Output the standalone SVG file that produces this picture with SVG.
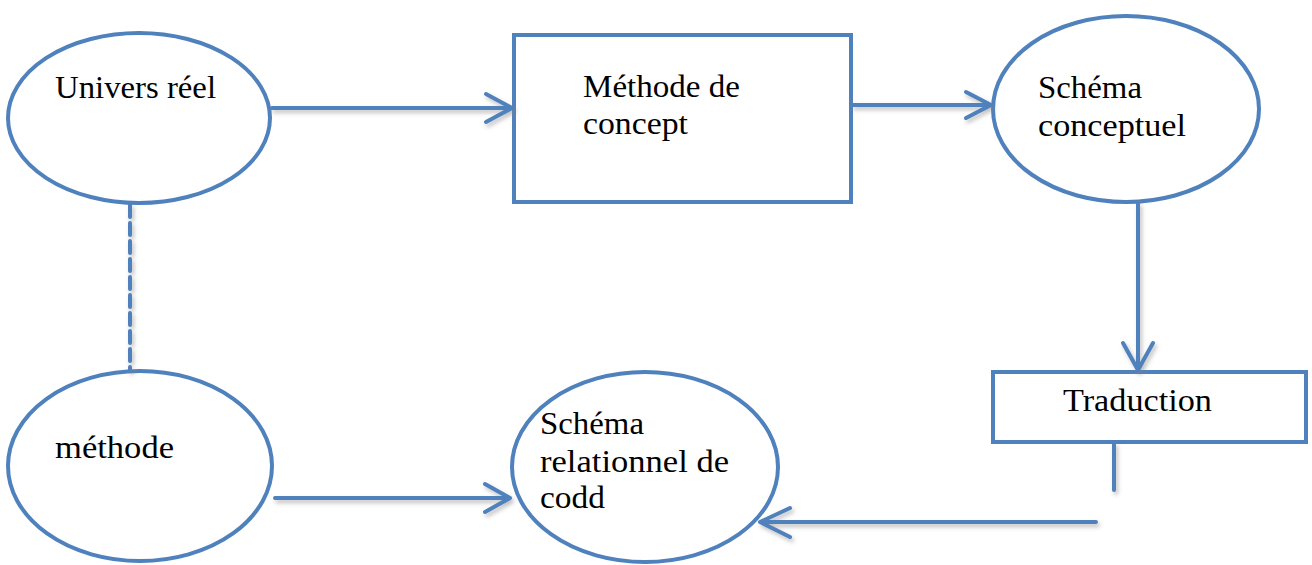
<svg xmlns="http://www.w3.org/2000/svg" width="1312" height="565" viewBox="0 0 1312 565">
<style>
.shape{fill:#ffffff;stroke:#4F81BD;stroke-width:4}
.conn{fill:none;stroke:#4F81BD;stroke-width:4;stroke-linecap:round;stroke-linejoin:round}
.lbl{font-family:"Liberation Serif","DejaVu Serif",serif;font-size:31px;fill:#000000}
</style>
<defs>
<filter id="sh" x="-20%" y="-50%" width="140%" height="200%">
<feDropShadow dx="2" dy="3" stdDeviation="2" flood-color="#808080" flood-opacity="0.5"/>
</filter>
</defs>
<rect width="1312" height="565" fill="#ffffff"/>
<g id="n-univers">
<ellipse class="shape" cx="139" cy="118" rx="131" ry="85"/>
<text class="lbl" x="55" y="98" textLength="161" lengthAdjust="spacingAndGlyphs">Univers réel</text>
</g>
<g id="n-methode-concept">
<rect class="shape" x="514" y="35" width="337" height="167"/>
<text class="lbl" x="583" y="97" textLength="157" lengthAdjust="spacingAndGlyphs">Méthode de</text>
<text class="lbl" x="583" y="134" textLength="105" lengthAdjust="spacingAndGlyphs">concept</text>
</g>
<g id="n-schema-conceptuel">
<ellipse class="shape" cx="1126" cy="109" rx="133" ry="93"/>
<text class="lbl" x="1038" y="98" textLength="104" lengthAdjust="spacingAndGlyphs">Schéma</text>
<text class="lbl" x="1038" y="136" textLength="148" lengthAdjust="spacingAndGlyphs">conceptuel</text>
</g>
<g id="n-traduction">
<rect class="shape" x="993" y="372" width="313" height="70"/>
<text class="lbl" x="1063" y="411" textLength="149" lengthAdjust="spacingAndGlyphs">Traduction</text>
</g>
<g id="n-schema-relationnel">
<ellipse class="shape" cx="645" cy="467" rx="133" ry="95"/>
<text class="lbl" x="540" y="434" textLength="104" lengthAdjust="spacingAndGlyphs">Schéma</text>
<text class="lbl" x="540" y="472" textLength="189" lengthAdjust="spacingAndGlyphs">relationnel de</text>
<text class="lbl" x="540" y="508" textLength="65" lengthAdjust="spacingAndGlyphs">codd</text>
</g>
<g id="n-methode">
<ellipse class="shape" cx="140" cy="466" rx="132" ry="95"/>
<text class="lbl" x="55" y="458" textLength="119" lengthAdjust="spacingAndGlyphs">méthode</text>
</g>
<g id="connectors" filter="url(#sh)">
<path class="conn" d="M272 108 H512 M486 94 L512 108 L486 122"/>
<path class="conn" d="M853 105 H991 M966 92 L991 105 L966 118"/>
<path class="conn" d="M1138 204 V370 M1123 343 L1138 370 L1153 343"/>
<path class="conn" d="M1114 444 V490"/>
<path class="conn" d="M1096 522 H760 M790 508 L760 522 L790 537"/>
<path class="conn" d="M275 498 H510 M485 484 L510 498 L485 512"/>
<path class="conn" d="M130 205 V370" stroke-dasharray="12 6" stroke-linecap="butt"/>
</g>
</svg>
